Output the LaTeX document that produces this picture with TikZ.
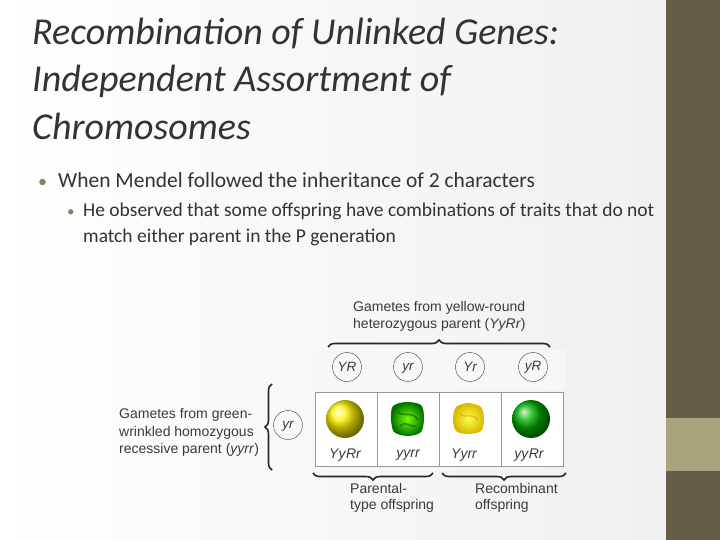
\documentclass[tikz,border=0pt]{standalone}
\usepackage{fontspec}
\setmainfont{Carlito}
\newfontfamily\arialf{Liberation Sans}
\usetikzlibrary{decorations.pathreplacing}
\definecolor{olive}{HTML}{655D48}
\definecolor{lolive}{HTML}{A8A47E}
\definecolor{tx}{HTML}{333333}
\definecolor{gt}{HTML}{3A3A3A}
\tikzset{
  captxt/.style={font=\arialf\fontsize{14}{16}\selectfont, text=gt, inner sep=0pt},
  gam/.style={circle, draw=gt, thin, minimum size=29pt, inner sep=0pt, font=\arialf\fontsize{13.5}{15}\selectfont\itshape, text=gt},
  brc/.style={draw=black!85, line width=1.6pt, decorate, decoration={brace, amplitude=7pt}},
  cell/.style={draw=gray!80, line width=0.8pt, minimum width=62pt, minimum height=74pt, inner sep=0pt, fill=white},
  geno/.style={font=\arialf\fontsize{14}{15}\selectfont\itshape, text=gt, inner sep=0pt},
  ttl/.style={anchor=base west, inner sep=0pt, text=tx, font=\fontsize{38}{40}\selectfont\itshape},
}
\begin{document}
\begin{tikzpicture}[x=1pt,y=-1pt]
\useasboundingbox (0,0) rectangle (720,540);
\shade[left color=white, right color=gray!12] (0,0) rectangle (666,540);
\fill[olive] (666,0) rectangle (720,540);
\fill[lolive] (666,418) rectangle (720,471);
% title
\node[ttl] (t1) at (32,45) {Recombination of Unlinked Genes:};
\node[ttl] (t2) at (32,92) {Independent Assortment of};
\node[ttl] (t3) at (32,140) {Chromosomes};
% bullets
\node[anchor=base west, inner sep=0pt, text=lolive!80!black, font=\fontsize{18}{20}\selectfont] (b1) at (38,188) {•};
\node[anchor=base west, inner sep=0pt, text=tx, font=\fontsize{21.5}{22}\selectfont] (l1) at (58,188) {When Mendel followed the inheritance of 2 characters};
\node[anchor=base west, inner sep=0pt, text=lolive!80!black, font=\fontsize{15}{18}\selectfont] (b2) at (67,217) {•};
\node[anchor=base west, inner sep=0pt, text=tx, font=\fontsize{19.5}{20}\selectfont] (l2) at (83,217) {He observed that some offspring have combinations of traits that do not};
\node[anchor=base west, inner sep=0pt, text=tx, font=\fontsize{19.5}{20}\selectfont] (l3) at (83,242) {match either parent in the P generation};
% top caption
\node[captxt, anchor=base west] (c1) at (353,311) {Gametes from yellow-round};
\node[captxt, anchor=base west] (c2) at (353,328) {heterozygous parent (\textit{YyRr})};
\coordinate (tb1) at (328,347);
\coordinate (tb2) at (550,347);
\draw[brc] (tb1) -- (tb2);
% gamete circles
\fill[gray!6] (315,350) rectangle (565,390);
\node[gam] (g1) at (347,367) {YR};
\node[gam] (g2) at (408,367) {yr\vphantom{Y}};
\node[gam] (g3) at (470,367) {Yr};
\node[gam] (g4) at (533,367) {yR};
% left caption
\node[captxt, anchor=base west] (d1) at (119,418) {Gametes from green-};
\node[captxt, anchor=base west] (d2) at (119,436) {wrinkled homozygous};
\node[captxt, anchor=base west] (d3) at (119,453) {recessive parent (\textit{yyrr})};
\coordinate (lb1) at (272,470);
\coordinate (lb2) at (272,384);
\draw[brc] (lb1) -- (lb2);
\node[gam] (g0) at (288,425) {yr\vphantom{Y}};
% grid
\node[cell] (k1) at (346,429) {};
\node[cell] (k2) at (408,429) {};
\node[cell] (k3) at (470,429) {};
\node[cell] (k4) at (532,429) {};
% peas
\shade[ball color=yellow!90!orange] (345,419) circle (19);
\shade[inner color=green!55!yellow, outer color=green!45!black] plot[smooth cycle] coordinates {(393,406)(406,402)(421,405)(424,418)(421,432)(408,436)(394,432)(391,418)};
\draw[green!30!black, line width=1.5pt, opacity=.5] (398,412) .. controls (405,418) and (412,410) .. (418,420);
\draw[green!30!black, line width=1.5pt, opacity=.5] (400,426) .. controls (406,420) and (412,428) .. (416,426);
\shade[inner color=yellow!70, outer color=yellow!70!orange!85!black] plot[smooth cycle] coordinates {(456,407)(468,403)(481,407)(484,419)(481,431)(468,434)(456,431)(453,419)};
\draw[orange!70!black, line width=1.2pt, opacity=.35] (460,414) .. controls (467,419) and (472,412) .. (478,420);
\shade[ball color=green!70!black] (531,419) circle (19);
% genotypes
\node[geno] (p1) at (345,455) {Yy\kern0.5pt Rr};
\node[geno] (p2) at (408,455) {yyrr};
\node[geno] (p3) at (464,455) {Yyrr};
\node[geno] (p4) at (529,455) {yy\kern0.5pt Rr};
% bottom braces
\coordinate (bb1) at (433,473);
\coordinate (bb2) at (313,473);
\draw[brc] (bb1) -- (bb2);
\coordinate (bb3) at (566,473);
\coordinate (bb4) at (442,473);
\draw[brc] (bb3) -- (bb4);
\node[captxt, anchor=base west] (e1) at (350,493) {Parental-};
\node[captxt, anchor=base west] (e2) at (350,509) {type offspring};
\node[captxt, anchor=base west] (e3) at (475,493) {Recombinant};
\node[captxt, anchor=base west] (e4) at (475,509) {offspring};
\end{tikzpicture}
\end{document}
